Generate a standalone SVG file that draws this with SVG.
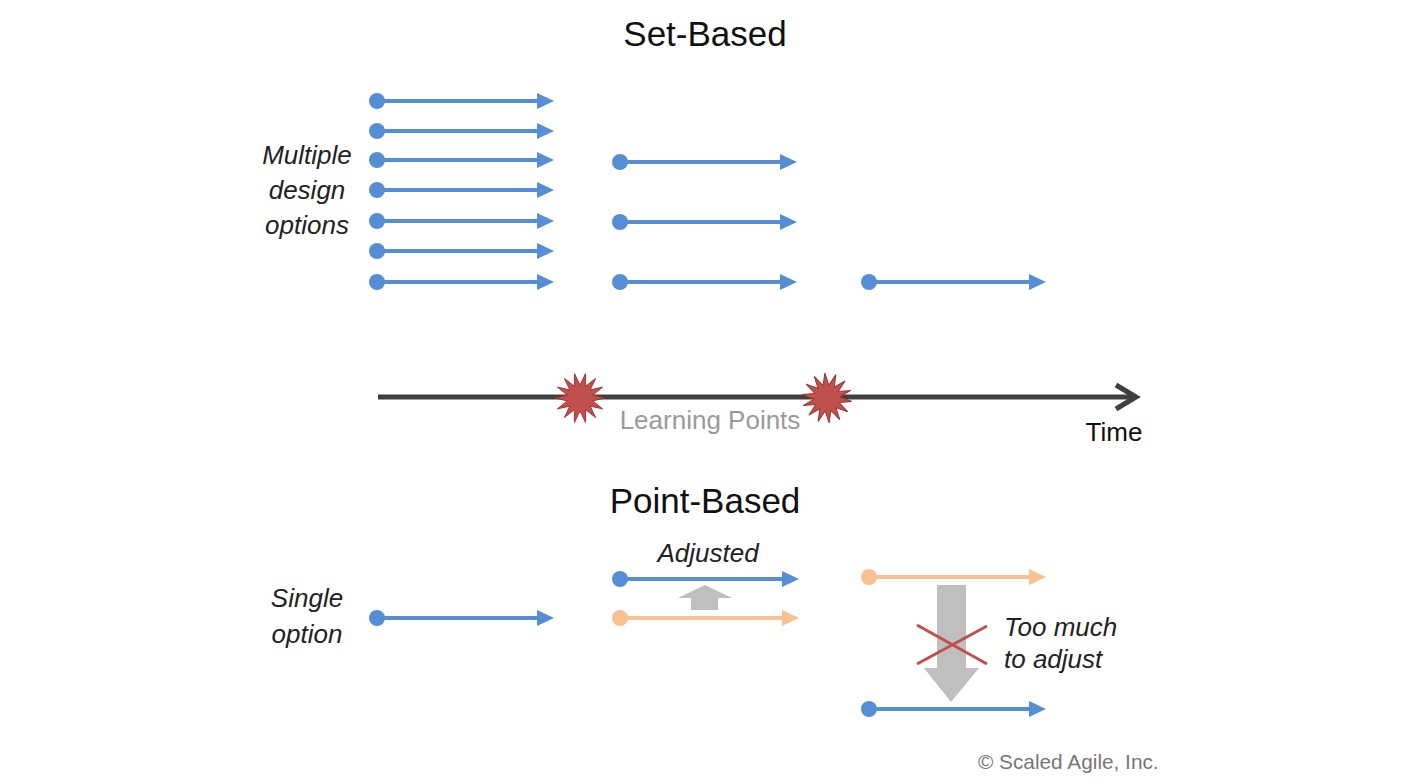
<svg xmlns="http://www.w3.org/2000/svg" width="1428" height="783" viewBox="0 0 1428 783">
<style>
text{font-family:"Liberation Sans",Arial,sans-serif;}
.title{font-size:35px;fill:#111;text-anchor:middle;}
.it{font-size:26px;font-style:italic;fill:#222;}
.mid{text-anchor:middle;}
.bl{stroke:#558ed5;stroke-width:4;fill:none;marker-start:url(#dotB);marker-end:url(#arrB);}
.or{stroke:#fac090;stroke-width:4;fill:none;marker-start:url(#dotO);marker-end:url(#arrO);}
.star{fill:#c0504d;stroke:#9b3532;stroke-width:1;}
</style>
<defs>
<marker id="arrB" markerUnits="userSpaceOnUse" viewBox="0 0 17 16" markerWidth="17" markerHeight="16" refX="1" refY="8" orient="auto"><path d="M0,0 L17,8 L0,16 Z" fill="#558ed5"/></marker>
<marker id="arrO" markerUnits="userSpaceOnUse" viewBox="0 0 17 16" markerWidth="17" markerHeight="16" refX="1" refY="8" orient="auto"><path d="M0,0 L17,8 L0,16 Z" fill="#fac090"/></marker>
<marker id="dotB" markerUnits="userSpaceOnUse" viewBox="0 0 16 16" markerWidth="16" markerHeight="16" refX="8" refY="8"><circle cx="8" cy="8" r="8" fill="#558ed5"/></marker>
<marker id="dotO" markerUnits="userSpaceOnUse" viewBox="0 0 16 16" markerWidth="16" markerHeight="16" refX="8" refY="8"><circle cx="8" cy="8" r="8" fill="#fac090"/></marker>
<polygon id="starShape" points="25,0 12.67,2.89 22.53,10.85 10.16,8.11 15.59,19.55 5.64,11.71 5.56,24.37 0,13 -5.56,24.37 -5.64,11.71 -15.59,19.55 -10.16,8.11 -22.53,10.85 -12.67,2.89 -25,0 -12.67,-2.89 -22.53,-10.85 -10.16,-8.11 -15.59,-19.55 -5.64,-11.71 -5.56,-24.37 0,-13 5.56,-24.37 5.64,-11.71 15.59,-19.55 10.16,-8.11 22.53,-10.85 12.67,-2.89"/>
</defs>
<rect width="1428" height="783" fill="#fff"/>

<g id="titles">
<text class="title" x="705" y="46">Set-Based</text>
<text class="title" x="705" y="513">Point-Based</text>
</g>

<g id="label-multiple">
<text class="it mid" x="307" y="164">Multiple</text>
<text class="it mid" x="307" y="199">design</text>
<text class="it mid" x="307" y="234">options</text>
</g>

<g id="label-single">
<text class="it mid" x="307" y="607">Single</text>
<text class="it mid" x="307" y="643">option</text>
</g>

<g id="connectors">
<line class="bl" x1="377" y1="101" x2="538" y2="101"/>
<line class="bl" x1="377" y1="131" x2="538" y2="131"/>
<line class="bl" x1="377" y1="160" x2="538" y2="160"/>
<line class="bl" x1="377" y1="190" x2="538" y2="190"/>
<line class="bl" x1="377" y1="221" x2="538" y2="221"/>
<line class="bl" x1="377" y1="251" x2="538" y2="251"/>
<line class="bl" x1="377" y1="282" x2="538" y2="282"/>
<line class="bl" x1="620" y1="162" x2="781" y2="162"/>
<line class="bl" x1="620" y1="222" x2="781" y2="222"/>
<line class="bl" x1="620" y1="282" x2="781" y2="282"/>
<line class="bl" x1="869" y1="282" x2="1030" y2="282"/>
<line x1="378" y1="397" x2="1134" y2="397" stroke="#3f3f3f" stroke-width="5"/>
<polyline points="1116,385 1136,397 1116,409" fill="none" stroke="#3f3f3f" stroke-width="5" stroke-linejoin="miter"/>
<line class="bl" x1="377" y1="618" x2="538" y2="618"/>
<line class="bl" x1="620" y1="579" x2="783" y2="579"/>
<line class="or" x1="620" y1="618" x2="783" y2="618"/>
<line class="or" x1="869" y1="577" x2="1030" y2="577"/>
<line class="bl" x1="869" y1="709" x2="1030" y2="709"/>
</g>

<g id="learning-points">
<use href="#starShape" class="star" transform="translate(580,398)"/>
<use href="#starShape" class="star" transform="translate(827,398) rotate(8)"/>
<text x="710" y="429" class="mid" font-size="26" fill="#9a9a9a">Learning Points</text>
</g>

<g id="time-label">
<text x="1114" y="441" class="mid" font-size="26" fill="#111">Time</text>
</g>

<g id="adjusted">
<text class="it mid" x="708" y="562">Adjusted</text>
<polygon points="705,585 732,598 718,598 718,610 691,610 691,598 678,598" fill="#bfbfbf"/>
</g>

<g id="too-much">
<polygon points="937,585 966,585 966,668 979,668 951,702 924,668 937,668" fill="#bfbfbf"/>
<line x1="917" y1="625" x2="987" y2="664" stroke="#c0504d" stroke-width="3"/>
<line x1="917" y1="664" x2="987" y2="626" stroke="#c0504d" stroke-width="3"/>
<text class="it" x="1004" y="636">Too much</text>
<text class="it" x="1004" y="668">to adjust</text>
</g>

<g id="copyright">
<text x="978" y="769" font-size="20.8" fill="#777">© Scaled Agile, Inc.</text>
</g>
</svg>
